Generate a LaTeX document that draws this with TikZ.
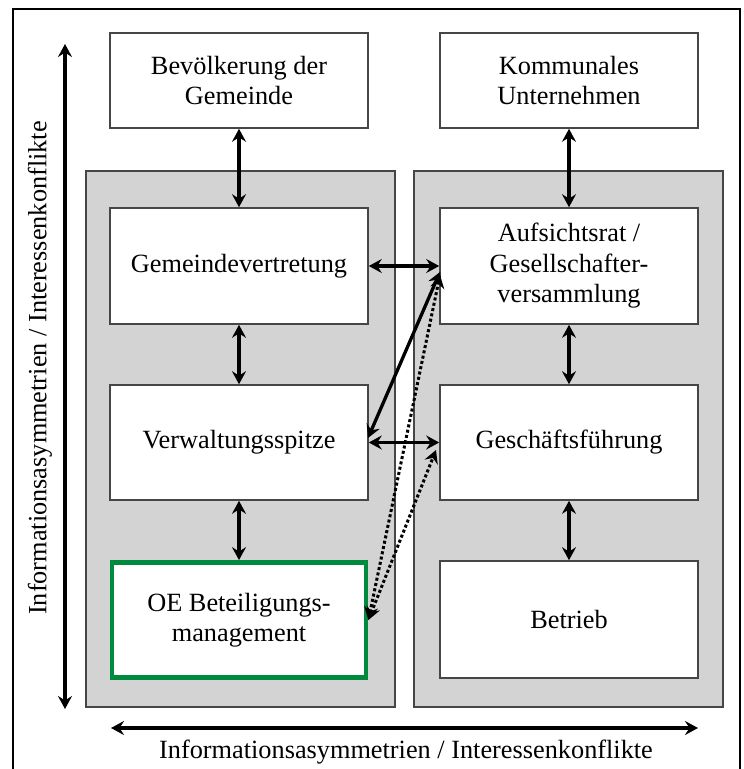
\documentclass[tikz,border=0pt]{standalone}
\usepackage{fontspec}
\setmainfont{Liberation Serif}
\usetikzlibrary{arrows.meta}
\definecolor{oegreen}{RGB}{0,138,62}
\definecolor{panelgray}{RGB}{211,211,211}
\definecolor{boxline}{RGB}{70,70,70}
\begin{document}
\begin{tikzpicture}[x=1pt,y=-1pt,
  txt/.style={font=\fontsize{26.3}{30.5}\selectfont},
  box/.style={txt,draw=boxline,line width=1.6pt,fill=white,minimum width=258pt,align=center,inner sep=0pt},
  panel/.style={draw=boxline,line width=1.6pt,fill=panelgray,minimum width=309pt,minimum height=536pt,inner sep=0pt},
  arr/.style={{Stealth[length=13pt,width=14pt,inset=4.5pt]}-{Stealth[length=13pt,width=14pt,inset=4.5pt]},line width=3.3pt,black},
  dotarr/.style={arr,line width=3pt,dash pattern=on 3pt off 2.4pt}
]
\useasboundingbox (0,0) rectangle (744,769);
\begin{scope}
\clip (0,0) rectangle (744,769);
\draw[line width=1.8pt] (13,9) rectangle (740,800);
\end{scope}

\node[panel] (pl) at (240.5,439) {};
\node[panel] (pr) at (568.5,439) {};

\node[box,minimum height=95pt] (bev) at (239,80.5) {Bevölkerung der\\Gemeinde};
\node[box,minimum height=95pt] (kom) at (569,80.5) {Kommunales\\Unternehmen};
\node[box,minimum height=116pt] (gem) at (239,266) {Gemeindevertretung};
\node[box,minimum height=116pt] (auf) at (569,266) {Aufsichtsrat /\\Gesellschafter-\\versammlung};
\node[box,minimum height=115pt] (verw) at (239,442.5) {Verwaltungsspitze};
\node[box,minimum height=115pt] (gesch) at (569,442.5) {Geschäftsführung};
\node[box,draw=oegreen,line width=4.8pt,minimum width=254pt,minimum height=115pt] (oe) at (239,620) {OE Beteiligungs-\\management};
\node[box,minimum height=117pt] (bet) at (569,619.5) {Betrieb};

\draw[arr] (bev.south) -- (gem.north);
\draw[arr] (gem.south) -- (verw.north);
\draw[arr] (verw.south) -- (oe.north);
\draw[arr] (kom.south) -- (auf.north);
\draw[arr] (auf.south) -- (gesch.north);
\draw[arr] (gesch.south) -- (bet.north);

\draw[arr] (gem.east) -- (auf.west);
\draw[arr] (verw.east) -- (gesch.west);

\coordinate (vdiag) at (368,438);
\coordinate (adiag) at (440,272);
\coordinate (adot) at (440,275);
\coordinate (gdot) at (436,450);
\draw[arr] (vdiag) -- (adiag);
\draw[dotarr] (oe.east) -- (adot);
\draw[dotarr] (oe.east) -- (gdot);

\coordinate (vt) at (65,44);
\coordinate (vb) at (65,709);
\draw[arr] (vt) -- (vb);
\coordinate (hl) at (111,728);
\coordinate (hr) at (698,728);
\draw[arr] (hl) -- (hr);

\node[txt,rotate=90] (vlab) at (40,368) {Informationsasymmetrien / Interessenkonflikte};
\node[txt] (hlab) at (406,752) {Informationsasymmetrien / Interessenkonflikte};
\end{tikzpicture}
\end{document}
